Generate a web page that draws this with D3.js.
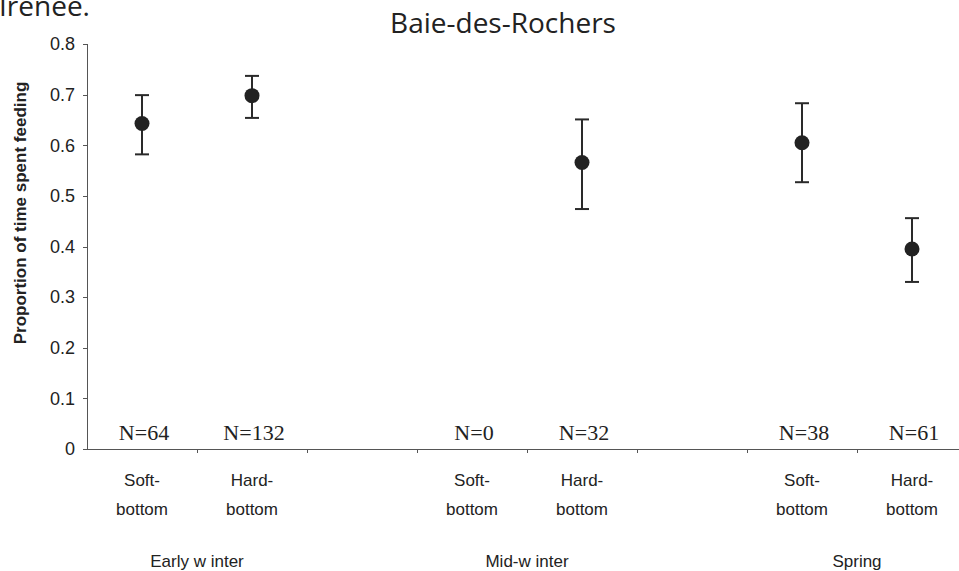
<!DOCTYPE html>
<html>
<head>
<meta charset="utf-8">
<script src="https://cdnjs.cloudflare.com/ajax/libs/d3/7.8.5/d3.min.js"></script>
<style>
    body { margin: 0; background: #fff; }
    svg { display: block; }
    .axis path, .axis line { stroke: #555; shape-rendering: crispEdges; }
    .axis text { font-family: 'Liberation Sans', Arial, sans-serif; fill: #222; }
</style>
</head>
<body>
<div id="vis"></div>
<script>
// slots along the x axis (gaps included), and the six measured points
var slotKeys = ['EW-Soft', 'EW-Hard', 'gap1', 'MW-Soft', 'MW-Hard', 'gap2', 'SP-Soft', 'SP-Hard'];
var pointKeys = ['EW-Soft', 'EW-Hard', 'MW-Soft', 'MW-Hard', 'SP-Soft', 'SP-Hard'];
var habitatTop = ['Soft-', 'Hard-', 'Soft-', 'Hard-', 'Soft-', 'Hard-'];
var habitatBottom = ['bottom', 'bottom', 'bottom', 'bottom', 'bottom', 'bottom'];
var means = [0.643, 0.698, null, 0.566, 0.605, 0.395];
var upper = [0.699, 0.737, null, 0.651, 0.683, 0.456];
var lower = [0.582, 0.654, null, 0.474, 0.527, 0.330];
var nLabels = ['N=64', 'N=132', 'N=0', 'N=32', 'N=38', 'N=61'];
var seasons = ['Early w inter', 'Mid-w inter', 'Spring'];
var seasonSlots = [['EW-Soft', 'EW-Hard'], ['MW-Soft', 'MW-Hard'], ['SP-Soft', 'SP-Hard']];
var yTicks = [0, 0.1, 0.2, 0.3, 0.4, 0.5, 0.6, 0.7, 0.8];

var width = 959;
var height = 571;
var margin = { left: 87, top: 44, right: -8, bottom: 122 };
var drawWidth = width - margin.left - margin.right;
var drawHeight = height - margin.top - margin.bottom;

var svg = d3.select('#vis')
    .append('svg')
    .attr('width', width)
    .attr('height', height);

var g = svg.append('g')
    .attr('transform', 'translate(' + margin.left + ',' + margin.top + ')');

var xScale = d3.scaleBand().domain(slotKeys).range([0, drawWidth]).padding(0);
var xIndex = d3.scaleLinear().domain([0, slotKeys.length]).range([0, drawWidth]);
var yScale = d3.scaleLinear().domain([0, 0.8]).range([drawHeight, 0]);

var cx = function(k) { return xScale(k) + xScale.bandwidth() / 2; };

// axes
var yAxis = d3.axisLeft(yScale).tickValues(yTicks).tickSize(4).tickPadding(8)
    .tickFormat(function(d) { return d === 0 ? '0' : d3.format('.1f')(d); });
g.append('g').attr('class', 'axis').call(yAxis)
    .call(function(s) { s.select('.domain').attr('d', 'M-4,0.5H0.5V' + drawHeight); })
    .selectAll('text').style('font-size', '18px');

var xAxis = d3.axisBottom(xIndex).tickValues(d3.range(1, slotKeys.length)).tickSize(4).tickFormat('');
g.append('g').attr('class', 'axis')
    .attr('transform', 'translate(0,' + drawHeight + ')')
    .call(xAxis)
    .call(function(s) { s.select('.domain').attr('d', 'M0,0.5H' + drawWidth); });

// N labels
g.selectAll('.nlab').data(pointKeys).enter().append('text')
    .attr('class', 'nlab')
    .attr('x', function(d) { return cx(d) + 2; })
    .attr('y', drawHeight - 9)
    .attr('text-anchor', 'middle')
    .style('font-family', "'Liberation Serif', 'Times New Roman', serif")
    .style('font-size', '22px')
    .style('fill', '#222')
    .text(function(d, i) { return nLabels[i]; });

// habitat labels
var habFont = "'Liberation Sans', Arial, sans-serif";
g.selectAll('.hab1').data(pointKeys).enter().append('text')
    .attr('x', function(d) { return cx(d); })
    .attr('y', drawHeight + 37)
    .attr('text-anchor', 'middle')
    .style('font-family', habFont).style('font-size', '17px').style('fill', '#222')
    .text(function(d, i) { return habitatTop[i]; });
g.selectAll('.hab2').data(pointKeys).enter().append('text')
    .attr('x', function(d) { return cx(d); })
    .attr('y', drawHeight + 66)
    .attr('text-anchor', 'middle')
    .style('font-family', habFont).style('font-size', '17px').style('fill', '#222')
    .text(function(d, i) { return habitatBottom[i]; });

// season labels
g.selectAll('.season').data(seasons).enter().append('text')
    .attr('x', function(d, i) { return xScale(seasonSlots[i][1]); })
    .attr('y', drawHeight + 118)
    .attr('text-anchor', 'middle')
    .style('font-family', habFont).style('font-size', '17px').style('fill', '#222')
    .text(function(d) { return d; });

// error bars and points
var pts = pointKeys.map(function(k, i) {
    return { key: k, mean: means[i], hi: upper[i], lo: lower[i] };
}).filter(function(d) { return d.mean !== null; });

var bars = g.selectAll('.err').data(pts).enter().append('g').attr('class', 'err');
bars.append('line')
    .attr('x1', function(d) { return cx(d.key); })
    .attr('x2', function(d) { return cx(d.key); })
    .attr('y1', function(d) { return yScale(d.hi); })
    .attr('y2', function(d) { return yScale(d.lo); })
    .style('stroke', '#2a2a2a').style('stroke-width', 2);
bars.append('line')
    .attr('x1', function(d) { return cx(d.key) - 7; })
    .attr('x2', function(d) { return cx(d.key) + 7; })
    .attr('y1', function(d) { return yScale(d.hi); })
    .attr('y2', function(d) { return yScale(d.hi); })
    .style('stroke', '#2a2a2a').style('stroke-width', 2);
bars.append('line')
    .attr('x1', function(d) { return cx(d.key) - 7; })
    .attr('x2', function(d) { return cx(d.key) + 7; })
    .attr('y1', function(d) { return yScale(d.lo); })
    .attr('y2', function(d) { return yScale(d.lo); })
    .style('stroke', '#2a2a2a').style('stroke-width', 2);
bars.append('circle')
    .attr('cx', function(d) { return cx(d.key); })
    .attr('cy', function(d) { return yScale(d.mean); })
    .attr('r', 7.5)
    .style('fill', '#222');

// titles
svg.append('text')
    .attr('x', 503)
    .attr('y', 33)
    .attr('text-anchor', 'middle')
    .style('font-family', "'Open Sans', 'Noto Sans', sans-serif")
    .style('font-size', '28px')
    .style('fill', '#222')
    .text('Baie-des-Rochers');

svg.append('text')
    .attr('x', -1)
    .attr('y', 16)
    .style('font-family', "'Open Sans', 'Noto Sans', sans-serif")
    .style('font-size', '28px')
    .style('fill', '#222')
    .text('Irenee.');

svg.append('text')
    .attr('transform', 'translate(26,213) rotate(-90)')
    .attr('text-anchor', 'middle')
    .style('font-family', habFont)
    .style('font-size', '17px')
    .style('font-weight', 'bold')
    .style('fill', '#222')
    .text('Proportion of time spent feeding');
</script>
</body>
</html>
